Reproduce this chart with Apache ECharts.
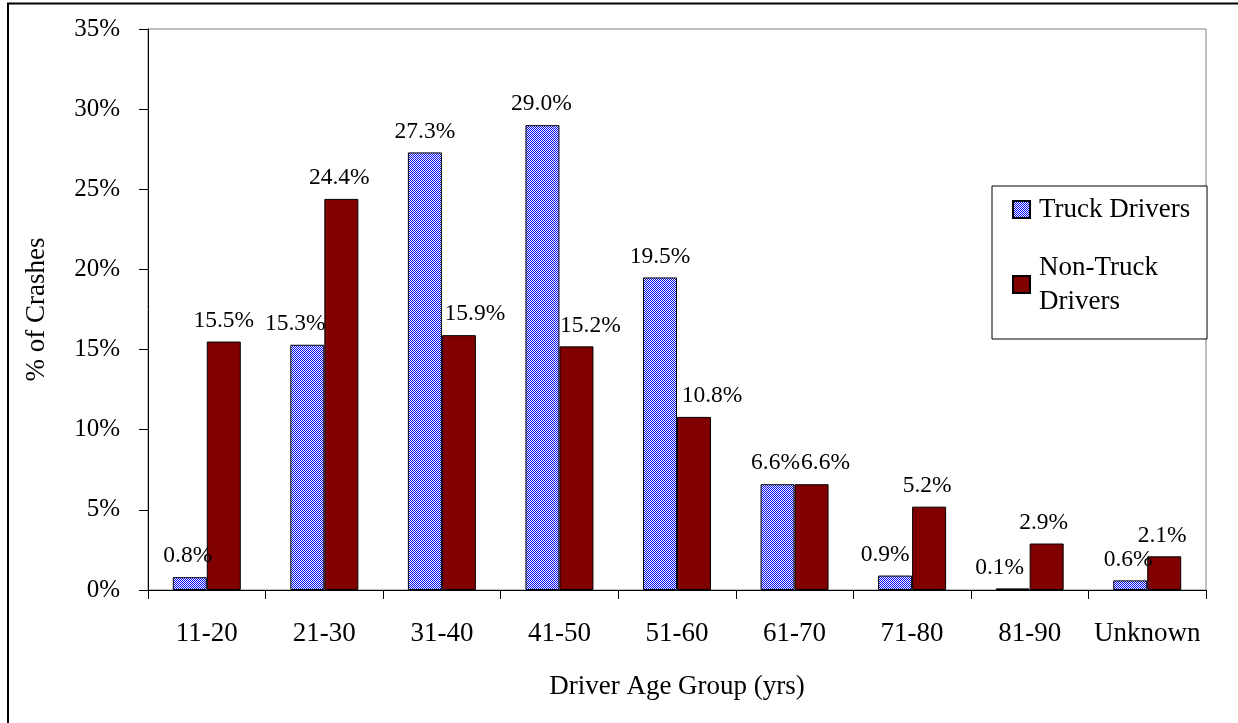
<!DOCTYPE html>
<html>
<head>
<meta charset="utf-8">
<title>Crashes by Driver Age Group</title>
<script src="https://cdn.jsdelivr.net/npm/echarts@6/dist/echarts.min.js"></script>
<style>
  html, body { margin: 0; padding: 0; background: #fff; }
  #chart { width: 1238px; height: 723px; }
</style>
</head>
<body>
<div id="chart"></div>
<script>
// Share of crashes (%) by driver age group
const ageGroups = ['11-20', '21-30', '31-40', '41-50', '51-60', '61-70', '71-80', '81-90', 'Unknown'];
const truckDrivers = [0.8, 15.3, 27.3, 29.0, 19.5, 6.6, 0.9, 0.1, 0.6];
const nonTruckDrivers = [15.5, 24.4, 15.9, 15.2, 10.8, 6.6, 5.2, 2.9, 2.1];
const yTicks = { min: 0, max: 35, step: 5 };

// Horizontal nudges for the value labels so neighbouring labels do not collide
const truckLabelShift = [-2, -12, 0, -1, 0, -2, -10, -13, -2];
const nonTruckLabelShift = [0, -2, 16, 14, 18, 14, -2, -3, -2];

const serif = '"Liberation Serif", "Times New Roman", serif';

// Fine blue/white checker fill for the truck bars
function checkerPattern() {
  const c = document.createElement('canvas');
  c.width = 2; c.height = 2;
  const ctx = c.getContext('2d');
  ctx.fillStyle = '#ffffff';
  ctx.fillRect(0, 0, 2, 2);
  ctx.fillStyle = '#0000ff';
  ctx.fillRect(0, 0, 1, 1);
  ctx.fillRect(1, 1, 1, 1);
  return { image: c, repeat: 'repeat' };
}

function withLabels(values, shifts) {
  return values.map((v, i) => ({ value: v, label: { offset: [shifts[i], 0] } }));
}

const chart = echarts.init(document.getElementById('chart'), null, { renderer: 'canvas' });

const valueLabel = {
  show: true,
  position: 'top',
  distance: 9,
  fontFamily: serif,
  fontSize: 23.5,
  color: '#000',
  formatter: p => p.value.toFixed(1) + '%'
};

chart.setOption({
  animation: false,
  backgroundColor: '#fff',
  textStyle: { fontFamily: serif, color: '#000' },
  graphic: [{
    type: 'rect',
    silent: true,
    z: -10,
    shape: { x: 8, y: 3.5, width: 1400, height: 900 },
    style: { fill: 'none', stroke: '#000', lineWidth: 2 }
  }],
  grid: {
    left: 148, right: 32, top: 29, bottom: 133,
    show: true, borderColor: '#808080', borderWidth: 1, backgroundColor: 'transparent'
  },
  legend: {
    orient: 'vertical',
    left: 992, top: 186,
    padding: [6.5, 16.8, 3.5, 20],
    itemGap: 7,
    itemWidth: 17, itemHeight: 17,
    borderColor: '#000', borderWidth: 1,
    backgroundColor: '#fff',
    icon: 'rect',
    selectedMode: false,
    textStyle: { fontFamily: serif, fontSize: 27, color: '#000', lineHeight: 34 },
    data: [
      { name: 'Truck Drivers', textStyle: { padding: [0, 0, 0, 4] } },
      { name: 'Non-Truck Drivers', textStyle: { padding: [34, 0, 0, 4] } }
    ],
    formatter: name => name === 'Non-Truck Drivers' ? 'Non-Truck\nDrivers' : name
  },
  xAxis: {
    type: 'category',
    data: ageGroups,
    name: 'Driver Age Group (yrs)',
    nameLocation: 'middle',
    nameGap: 83,
    nameTextStyle: { fontFamily: serif, fontSize: 27, color: '#000' },
    axisLine: { lineStyle: { color: '#000', width: 1 } },
    axisTick: { show: true, length: 9, interval: 0, lineStyle: { color: '#000' } },
    axisLabel: { interval: 0, hideOverlap: false, margin: 30, fontFamily: serif, fontSize: 27, color: '#000' },
    splitLine: { show: false }
  },
  yAxis: {
    type: 'value',
    min: yTicks.min, max: yTicks.max, interval: yTicks.step,
    name: '% of Crashes',
    nameLocation: 'middle',
    nameGap: 98,
    nameTextStyle: { fontFamily: serif, fontSize: 27, color: '#000' },
    axisLine: { show: true, lineStyle: { color: '#000', width: 1 } },
    axisTick: { show: true, length: 9, lineStyle: { color: '#000' } },
    axisLabel: { margin: 28, fontFamily: serif, fontSize: 25, color: '#000', formatter: '{value}%' },
    splitLine: { show: false }
  },
  series: [
    {
      name: 'Truck Drivers',
      type: 'bar',
      barWidth: 34,
      barGap: '0%',
      data: withLabels(truckDrivers, truckLabelShift),
      itemStyle: { color: checkerPattern(), borderColor: '#000', borderWidth: 1 },
      label: valueLabel
    },
    {
      name: 'Non-Truck Drivers',
      type: 'bar',
      barWidth: 34,
      barGap: '0%',
      data: withLabels(nonTruckDrivers, nonTruckLabelShift),
      itemStyle: { color: '#800000', borderColor: '#000', borderWidth: 1 },
      label: valueLabel
    }
  ]
});
</script>
</body>
</html>
